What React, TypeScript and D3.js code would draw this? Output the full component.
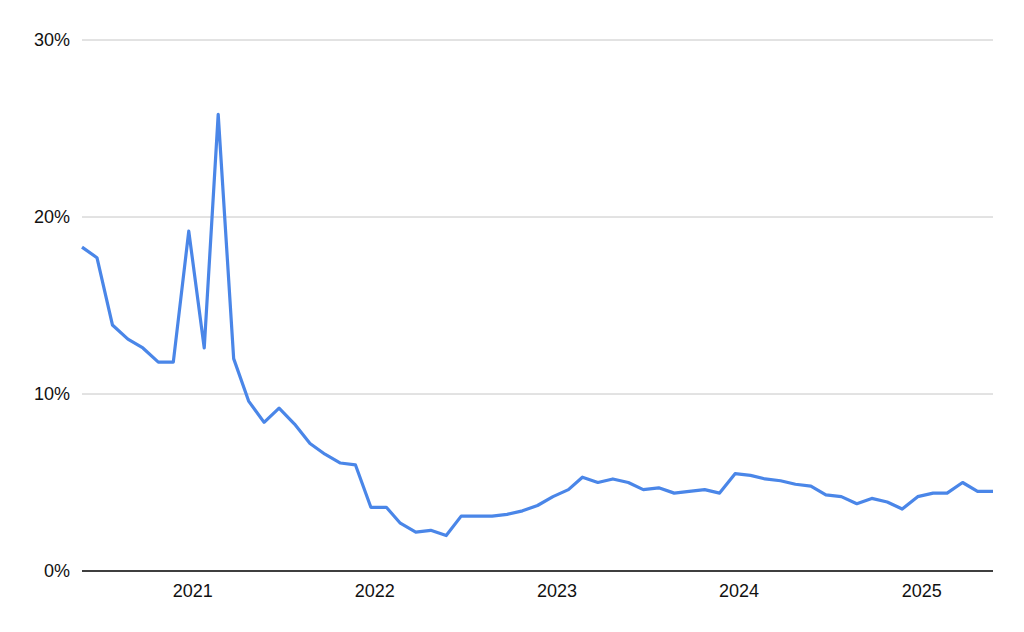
import * as d3 from 'd3';

// monthly values, June 2020 .. June 2025 (%)
const startMonth = new Date(2020, 5, 1);
const values = [
  18.3, 17.7, 13.9, 13.1, 12.6, 11.8, 11.8, 19.2, 12.6, 25.8,
  12.0, 9.6, 8.4, 9.2, 8.3, 7.2, 6.6, 6.1, 6.0, 3.6,
  3.6, 2.7, 2.2, 2.3, 2.0, 3.1, 3.1, 3.1, 3.2, 3.4,
  3.7, 4.2, 4.6, 5.3, 5.0, 5.2, 5.0, 4.6, 4.7, 4.4,
  4.5, 4.6, 4.4, 5.5, 5.4, 5.2, 5.1, 4.9, 4.8, 4.3,
  4.2, 3.8, 4.1, 3.9, 3.5, 4.2, 4.4, 4.4, 5.0, 4.5,
  4.5,
];
const yTicks = [0, 10, 20, 30];
const xTickYears = [2021, 2022, 2023, 2024, 2025];

const data = values.map((v, i) => ({
  date: d3.timeMonth.offset(startMonth, i),
  value: v,
}));

export default function App() {
  const width = 1024;
  const height = 632;
  const margin = { top: 40, right: 31, bottom: 61, left: 82 };

  const x = d3.scaleTime()
    .domain(d3.extent(data, d => d.date) as [Date, Date])
    .range([margin.left, width - margin.right]);

  const y = d3.scaleLinear()
    .domain([0, 30])
    .range([height - margin.bottom, margin.top]);

  const line = d3.line<{ date: Date; value: number }>()
    .x(d => x(d.date))
    .y(d => y(d.value));

  const font = 'Arial, "Liberation Sans", sans-serif';

  return (
    <svg
      width={width}
      height={height}
      style={{ position: 'absolute', left: 0, top: 0, background: '#fff' }}
    >
      {yTicks.map(t => (
        <g key={t}>
          <line
            x1={margin.left}
            x2={width - margin.right}
            y1={y(t)}
            y2={y(t)}
            stroke={t === 0 ? '#333' : '#c6c6c6'}
            strokeWidth={t === 0 ? 1.5 : 1}
          />
          <text
            x={70}
            y={y(t)}
            dy="0.35em"
            textAnchor="end"
            fontFamily={font}
            fontSize={18}
            fill="#111"
          >
            {t}%
          </text>
        </g>
      ))}
      <path
        d={line(data) ?? ''}
        fill="none"
        stroke="#4a86e8"
        strokeWidth={3.2}
        strokeLinejoin="round"
      />
      <line
        x1={margin.left}
        x2={width - margin.right}
        y1={y(0)}
        y2={y(0)}
        stroke="#333"
        strokeWidth={1.5}
      />
      {xTickYears.map(yr => (
        <text
          key={yr}
          x={x(new Date(yr, 0, 1)) + 4}
          y={597}
          textAnchor="middle"
          fontFamily={font}
          fontSize={18}
          fill="#111"
        >
          {yr}
        </text>
      ))}
    </svg>
  );
}
